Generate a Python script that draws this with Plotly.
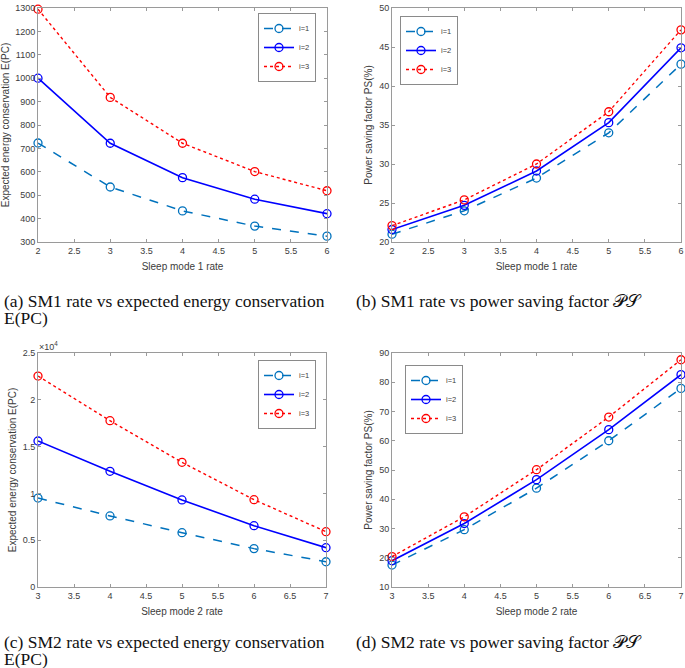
import plotly.graph_objects as go

# ===== data =====
sm1_rate = [2, 3, 4, 5, 6]
sm2_rate = [3, 4, 5, 6, 7]

epc_sm1_i1 = [723, 535, 433, 368, 325]
epc_sm1_i2 = [1000, 722, 575, 483, 421]
epc_sm1_i3 = [1295, 918, 722, 601, 519]

ps_sm1_i1 = [21.0, 24.0, 28.2, 34.0, 42.8]
ps_sm1_i2 = [21.6, 24.7, 29.1, 35.3, 44.9]
ps_sm1_i3 = [22.1, 25.4, 30.0, 36.7, 47.2]

epc_sm2_i1 = [9500, 7590, 5800, 4100, 2700]
epc_sm2_i2 = [15600, 12360, 9300, 6550, 4200]
epc_sm2_i3 = [22540, 17770, 13320, 9330, 5910]

ps_sm2_i1 = [17.5, 29.6, 43.8, 60.0, 77.9]
ps_sm2_i2 = [19.0, 31.7, 46.7, 63.8, 82.6]
ps_sm2_i3 = [20.4, 34.0, 50.1, 68.1, 87.7]

series_names = ["i=1", "i=2", "i=3"]
epc_sm2_ticks = [0, 5000, 10000, 15000, 20000, 25000]
epc_sm2_ticktext = ["0", "0.5", "1", "1.5", "2", "2.5"]

# ===== style =====
W, H = 685, 668
LINE_STYLES = [
    dict(color="#0072BD", width=1.5, dash="dash"),
    dict(color="#0000FF", width=1.6, dash="solid"),
    dict(color="#FF0000", width=1.4, dash="dot"),
]
AX_LINE = "#9a9a9a"
TXT = "#3c3c3c"
FONT = "Liberation Sans"
SERIF = "Liberation Serif"


def px_x(p):
    return p / W


def px_y(p):
    return 1 - p / H


panels = [
    dict(x=sm1_rate, ys=[epc_sm1_i1, epc_sm1_i2, epc_sm1_i3], ax="", dx=(38, 327), dy=(8, 242),
         xr=[2, 6], yr=[300, 1300], ydt=100, leg=(316, 13, "right"),
         xt="Sleep mode 1 rate", yt="Expected energy conservation E(PC)"),
    dict(x=sm1_rate, ys=[ps_sm1_i1, ps_sm1_i2, ps_sm1_i3], ax="2", dx=(392, 681), dy=(8, 242),
         xr=[2, 6], yr=[20, 50], ydt=5, leg=(400, 16, "left"),
         xt="Sleep mode 1 rate", yt="Power saving factor PS(%)"),
    dict(x=sm2_rate, ys=[epc_sm2_i1, epc_sm2_i2, epc_sm2_i3], ax="3", dx=(38, 326), dy=(353, 587),
         xr=[3, 7], yr=[0, 25000], ydt=None, leg=(316, 360, "right"),
         xt="Sleep mode 2 rate", yt="Expected energy conservation E(PC)"),
    dict(x=sm2_rate, ys=[ps_sm2_i1, ps_sm2_i2, ps_sm2_i3], ax="4", dx=(392, 681), dy=(353, 587),
         xr=[3, 7], yr=[10, 90], ydt=10, leg=(405, 365, "left"),
         xt="Sleep mode 2 rate", yt="Power saving factor PS(%)"),
]

fig = go.Figure()
layout = dict()

for k, p in enumerate(panels):
    legend_id = "legend" if k == 0 else f"legend{k + 1}"
    for name, y, st in zip(series_names, p["ys"], LINE_STYLES):
        fig.add_trace(go.Scatter(
            x=p["x"], y=y, name=name, mode="lines+markers",
            line=st,
            marker=dict(symbol="circle-open", size=8, color=st["color"], line=dict(width=1.3)),
            xaxis="x" + p["ax"], yaxis="y" + p["ax"],
            legend=legend_id, cliponaxis=False,
        ))

    axis_common = dict(
        showline=True, linecolor=AX_LINE, linewidth=1, mirror="ticks",
        ticks="inside", ticklen=3, tickcolor=AX_LINE, showgrid=False, zeroline=False,
        tickfont=dict(family=FONT, size=9, color=TXT), automargin=False,
    )
    layout["xaxis" + p["ax"]] = dict(
        axis_common, domain=[px_x(p["dx"][0]), px_x(p["dx"][1])],
        range=p["xr"], dtick=0.5, tick0=p["xr"][0], anchor="y" + p["ax"],
        title=dict(text=p["xt"], font=dict(family=FONT, size=10, color=TXT), standoff=8),
    )
    yax = dict(
        axis_common, domain=[px_y(p["dy"][1]), px_y(p["dy"][0])],
        range=p["yr"], anchor="x" + p["ax"],
        title=dict(text=p["yt"], font=dict(family=FONT, size=10, color=TXT), standoff=4),
    )
    if p["ydt"] is None:
        yax.update(tickvals=epc_sm2_ticks, ticktext=epc_sm2_ticktext)
    else:
        yax.update(dtick=p["ydt"], tick0=p["yr"][0])
    layout["yaxis" + p["ax"]] = yax

    lx, ly, side = p["leg"]
    layout[legend_id] = dict(
        x=px_x(lx), y=px_y(ly), xanchor=side, yanchor="top",
        bgcolor="white", bordercolor="#8a8a8a", borderwidth=1,
        font=dict(family=FONT, size=7.5, color=TXT),
        itemwidth=30, tracegroupgap=0,
    )

fig.update_layout(**layout)

# x10^4 multiplier on panel (c)
fig.add_annotation(text="×10<sup>4</sup>", x=px_x(37), y=px_y(346), xref="paper", yref="paper",
                   xanchor="left", yanchor="middle", showarrow=False,
                   font=dict(family=FONT, size=9, color=TXT))

# sub-figure captions (one annotation per line, to keep LaTeX-like line spacing)
captions = [
    ("(a) SM1 rate vs expected energy conservation", 2, 301),
    ("E(PC)", 2, 318),
    ("(b) SM1 rate vs power saving factor 𝒫𝒮", 354, 301),
    ("(c) SM2 rate vs expected energy conservation", 2, 642),
    ("E(PC)", 2, 659),
    ("(d) SM2 rate vs power saving factor 𝒫𝒮", 354, 642),
]
for text, cx, cy in captions:
    fig.add_annotation(text=text, x=px_x(cx), y=px_y(cy), xref="paper", yref="paper",
                       xanchor="left", yanchor="middle", align="left", showarrow=False,
                       font=dict(family=SERIF, size=17.5, color="#111111"))

fig.update_layout(
    width=W, height=H,
    margin=dict(l=0, r=0, t=0, b=0),
    plot_bgcolor="white", paper_bgcolor="white",
    showlegend=True,
)

# page body has a default 8px margin; drop it so the figure fills the window
fig.write_html("out.html", config=dict(displayModeBar=False),
               post_script="document.body.style.margin='0';")
